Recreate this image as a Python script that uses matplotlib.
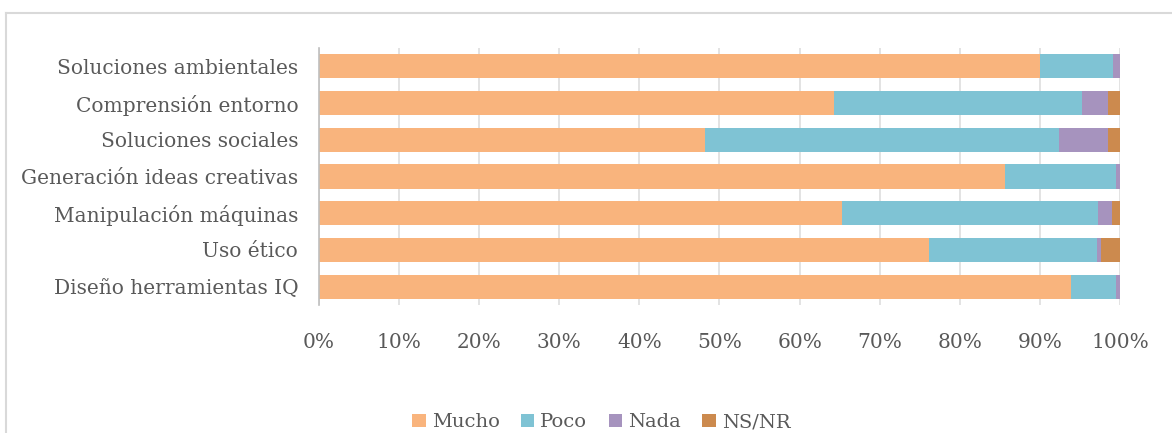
import matplotlib.pyplot as plt
from matplotlib.lines import Line2D
from matplotlib.ticker import PercentFormatter

plt.rcParams['font.family'] = ['DejaVu Serif']

categories = [
    "Diseño herramientas IQ",
    "Uso ético",
    "Manipulación máquinas",
    "Generación ideas creativas",
    "Soluciones sociales",
    "Comprensión entorno",
    "Soluciones ambientales",
]

# percentages per category, same order as above
mucho = [93.9, 76.2, 65.3, 85.7, 48.2, 64.3, 90.0]
poco  = [5.6, 20.9, 31.9, 13.8, 44.2, 31.0, 9.1]
nada  = [0.5, 0.5, 1.8, 0.5, 6.1, 3.2, 0.9]
nsnr  = [0.0, 2.4, 1.0, 0.0, 1.5, 1.5, 0.0]

series = [("Mucho", mucho, "#F9B47D"),
          ("Poco", poco, "#7FC3D4"),
          ("Nada", nada, "#A693BE"),
          ("NS/NR", nsnr, "#CC8A4E")]

text_color = "#595959"

fig = plt.figure(figsize=(11.72, 4.33), dpi=100)
ax = fig.add_axes([0.2722, 0.2956, 0.6834, 0.5935])

left = [0.0] * len(categories)
for name, vals, color in series:
    ax.barh(categories, vals, left=left, height=0.66, color=color,
            label=name, zorder=2)
    left = [l + v for l, v in zip(left, vals)]

ax.set_xlim(0, 100)
ax.set_ylim(-0.5, len(categories) - 0.5)
ax.set_xticks(range(0, 101, 10))
ax.xaxis.set_major_formatter(PercentFormatter(decimals=0))
ax.grid(axis="x", color="#c8c8c8", linewidth=1.2, alpha=0.6, zorder=3)
ax.grid(axis="y", visible=False)

for side in ("top", "right", "bottom"):
    ax.spines[side].set_visible(False)
ax.spines["left"].set_color("#bfbfbf")
ax.spines["left"].set_linewidth(1.2)
ax.spines["left"].set_zorder(4)

ax.tick_params(axis="both", length=0, labelsize=14.5, colors=text_color)
ax.tick_params(axis="x", pad=20)
ax.tick_params(axis="y", pad=15)

handles, labels = ax.get_legend_handles_labels()
fig.legend(handles, labels, loc="center", bbox_to_anchor=(0.513, 0.025),
           ncol=4, frameon=False, fontsize=14, labelcolor=text_color,
           handlelength=0.7, handleheight=0.7, handletextpad=0.3,
           columnspacing=1.1)

# chart frame
fig.add_artist(Line2D([0.0047, 0.0047], [0, 0.97], color="#d9d9d9", lw=1.5))
fig.add_artist(Line2D([0.0047, 1], [0.97, 0.97], color="#d9d9d9", lw=1.5))

fig.savefig("out.png", dpi=100)
